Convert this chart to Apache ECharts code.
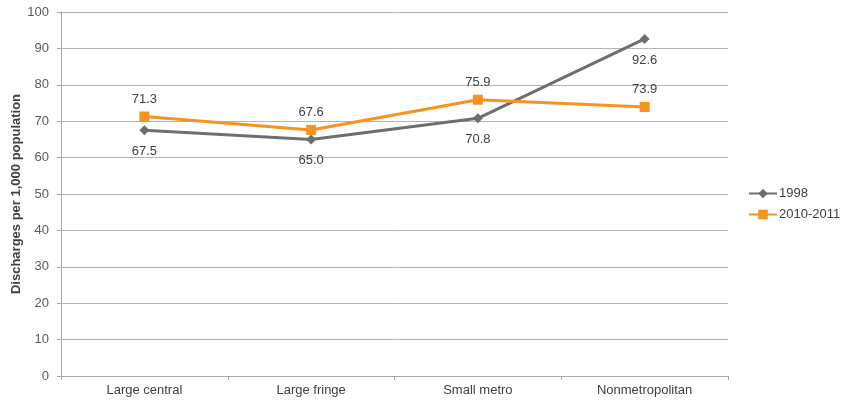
<!DOCTYPE html>
<html><head><meta charset="utf-8">
<script src="https://cdn.jsdelivr.net/npm/echarts@6/dist/echarts.min.js"></script>
<style>html,body{margin:0;padding:0;background:#fff}#c{width:843px;height:404px}</style>
</head><body><div id="c"></div>
<script>
const categories = ['Large central', 'Large fringe', 'Small metro', 'Nonmetropolitan'];
const seriesNames = ['1998', '2010-2011'];
const values1998 = [67.5, 65.0, 70.8, 92.6];
const values2010 = [71.3, 67.6, 75.9, 73.9];
const yAxisTitle = 'Discharges per 1,000 population';

const font = 'Liberation Sans, Arial, sans-serif';
const chart = echarts.init(document.getElementById('c'), null, {renderer: 'canvas'});
chart.setOption({
  animation: false,
  backgroundColor: '#fff',
  textStyle: {fontFamily: font},
  grid: {left: 61, right: 115, top: 12, bottom: 28, containLabel: false, outerBoundsMode: 'none'},
  graphic: [{
    type: 'text', x: 16.5, y: 194, rotation: Math.PI / 2,
    style: {text: yAxisTitle, fontFamily: font, fontSize: 13, fontWeight: 'bold', fill: '#404040',
            align: 'center', verticalAlign: 'middle'}
  }],
  legend: {
    orient: 'vertical', left: 743, top: 182, itemGap: 8, itemWidth: 28, itemHeight: 12,
    textStyle: {fontFamily: font, fontSize: 13, color: '#404040', padding: [0,0,0,-3]},
    data: seriesNames
  },
  xAxis: {
    type: 'category', data: categories, boundaryGap: true,
    axisLine: {lineStyle: {color: '#a6a6a6', width: 1}},
    axisTick: {show: true, length: 4, lineStyle: {color: '#a6a6a6'}},
    axisLabel: {fontFamily: font, fontSize: 13, color: '#404040', margin: 8}
  },
  yAxis: {
    type: 'value', min: 0, max: 100, interval: 10,
    axisLine: {show: true, lineStyle: {color: '#a6a6a6'}},
    axisTick: {show: true, length: 4, lineStyle: {color: '#a6a6a6'}},
    axisLabel: {fontFamily: font, fontSize: 13, color: '#595959', margin: 12},
    splitLine: {lineStyle: {color: '#b3b3b3', width: 1}}
  },
  series: [
    {
      name: seriesNames[0], type: 'line', data: values1998,
      symbol: 'diamond', symbolSize: 10, showAllSymbol: true,
      lineStyle: {color: '#6e6e6e', width: 3},
      itemStyle: {color: '#6e6e6e'},
      label: {show: true, position: 'bottom', distance: 10, fontFamily: font, fontSize: 13, color: '#404040',
              formatter: p => p.value.toFixed(1)}
    },
    {
      name: seriesNames[1], type: 'line', data: values2010,
      symbol: 'rect', symbolSize: 10, showAllSymbol: true,
      lineStyle: {color: '#f7931e', width: 3},
      itemStyle: {color: '#f7931e'},
      label: {show: true, position: 'top', distance: 6, fontFamily: font, fontSize: 13, color: '#404040',
              formatter: p => p.value.toFixed(1)}
    }
  ]
});
</script></body></html>
